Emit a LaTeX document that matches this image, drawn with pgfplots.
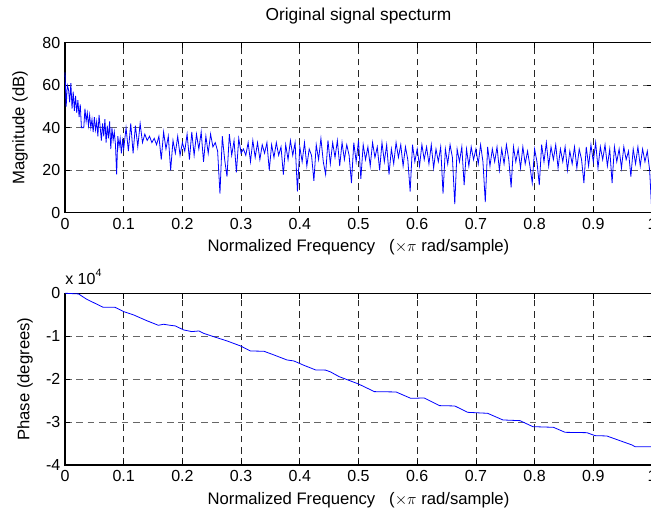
\documentclass[border=0pt]{standalone}
\usepackage{fontspec}
\setmainfont{Liberation Sans}
\usepackage{pgfplots}
\pgfplotsset{compat=1.18}
\definecolor{mblue}{RGB}{0,0,255}
\pgfplotsset{
  mstyle/.style={
    scale only axis,
    width=440.25pt,
    xmin=0, xmax=1,
    xtick={0,0.1,0.2,0.3,0.4,0.5,0.6,0.7,0.8,0.9,1},
    xticklabels={0,0.1,0.2,0.3,0.4,0.5,0.6,0.7,0.8,0.9,1},
    /pgf/number format/assume math mode=true,
    tick label style={font=\fontsize{12}{14}\selectfont},
    xticklabel style={yshift=-0.5pt},
    tick align=inside,
    major tick length=4pt,
    tick style={black, line width=0.5pt},
    axis line style={black, line width=0.8pt},
    grid=major,
    major x grid style={black!85, line width=0.5pt, dash pattern=on 5pt off 3.5pt},
    major y grid style={black!60, line width=0.5pt, dash pattern=on 5pt off 3.5pt},
    clip=false,
    every axis x label/.style={at={(axis description cs:0.5,-0.205)}, anchor=center, font=\fontsize{12.5}{14}\selectfont},
  }
}
\begin{document}
\begin{tikzpicture}
\path[use as bounding box] (-48.75pt,-33.75pt) rectangle (439.5pt,348.75pt);
% ---------- top: magnitude ----------
\begin{axis}[mstyle,
  at={(0pt,189.2pt)}, anchor=south west,
  height=127.5pt,
  ymin=0, ymax=80,
  ytick={0,20,40,60,80},
  yticklabels={0,20,40,60,80},
  title={Original signal specturm},
  title style={font=\fontsize{13}{15}\selectfont, at={(axis description cs:0.5,1)}, anchor=base, yshift=11pt},
  xlabel={Normalized Frequency\ \ \ ($\times\pi$ rad/sample)},
  ylabel={Magnitude (dB)},
  every axis y label/.style={at={(axis description cs:-0.0767,0.5)}, anchor=center, rotate=90, font=\fontsize{12.5}{14}\selectfont},
]
\addplot[mblue, line width=0.6pt] coordinates {
(0.000,66) (0.002,50) (0.004,60) (0.006,58) (0.008,52) (0.010,61) (0.012,49) (0.014,57)
(0.016,48) (0.018,55) (0.020,47) (0.022,53) (0.024,45) (0.026,51) (0.028,40) (0.030,40)
(0.032,40) (0.034,49) (0.036,43) (0.038,47) (0.040,41) (0.042,46) (0.044,40) (0.046,44)
(0.048,38) (0.050,45) (0.052,39) (0.054,43) (0.056,36) (0.058,46) (0.060,40) (0.062,34)
(0.064,42) (0.066,36) (0.068,44) (0.070,33) (0.072,41) (0.074,35) (0.076,43) (0.078,30)
(0.080,40) (0.082,34) (0.084,38) (0.086,32) (0.088,18) (0.090,36) (0.092,31) (0.094,35)
(0.096,28) (0.098,34)
(0.100,30) (0.104,40) (0.108,29) (0.112,42) (0.116,28) (0.120,41) (0.124,31) (0.128,42)
(0.132,33) (0.136,37) (0.140,34) (0.144,36) (0.148,33) (0.152,35) (0.156,32) (0.160,36)
(0.164,25) (0.168,38) (0.172,30) (0.176,36) (0.180,20) (0.184,34) (0.188,28) (0.192,36)
(0.196,27) (0.200,33) (0.204,29) (0.208,37) (0.212,25) (0.216,38) (0.220,27) (0.224,37)
(0.228,30) (0.232,38) (0.236,24) (0.240,36) (0.244,28) (0.248,37) (0.252,31) (0.256,33)
(0.260,29) (0.264,9) (0.268,36) (0.272,25) (0.276,17) (0.280,37) (0.284,27) (0.288,34)
(0.292,19) (0.296,35) (0.300,28) (0.304,30) (0.308,27) (0.312,33) (0.316,24) (0.320,34)
(0.324,26) (0.328,33) (0.332,25) (0.336,32) (0.340,28) (0.344,33) (0.348,20) (0.352,32)
(0.356,26) (0.360,33) (0.364,27) (0.368,31) (0.372,18) (0.376,32) (0.380,25) (0.384,34)
(0.388,27) (0.392,33) (0.396,10) (0.400,31) (0.404,24) (0.408,33) (0.412,22) (0.416,30)
(0.420,27) (0.424,15) (0.428,32) (0.432,25) (0.436,35) (0.440,24) (0.444,18) (0.448,34)
(0.452,23) (0.456,33) (0.460,26) (0.464,34) (0.468,22) (0.472,33) (0.476,25) (0.480,32)
(0.484,27) (0.488,14) (0.492,33) (0.496,24) (0.500,34) (0.504,16) (0.508,32) (0.512,25)
(0.516,31) (0.520,22) (0.524,33) (0.528,26) (0.532,31) (0.536,20) (0.540,33) (0.544,24)
(0.548,32) (0.552,18) (0.556,30) (0.560,23) (0.564,33) (0.568,26) (0.572,32) (0.576,22)
(0.580,31) (0.584,25) (0.588,10) (0.592,32) (0.596,24) (0.600,30) (0.604,22) (0.608,32)
(0.612,25) (0.616,31) (0.620,23) (0.624,32) (0.628,21) (0.632,30) (0.636,24) (0.640,31)
(0.644,9) (0.648,30) (0.652,23) (0.656,32) (0.660,26) (0.664,4) (0.668,30) (0.672,24)
(0.676,31) (0.680,13) (0.684,30) (0.688,22) (0.692,31) (0.696,25) (0.700,30) (0.704,23)
(0.708,32) (0.712,24) (0.716,5) (0.720,31) (0.724,22) (0.728,30) (0.732,24) (0.736,31)
(0.740,20) (0.744,30) (0.748,23) (0.752,32) (0.756,25) (0.760,12) (0.764,31) (0.768,24)
(0.772,30) (0.776,21) (0.780,31) (0.784,23) (0.788,29) (0.792,22) (0.796,14) (0.800,30)
(0.804,24) (0.808,13) (0.812,32) (0.816,24) (0.820,33) (0.824,22) (0.828,31) (0.832,25)
(0.836,32) (0.840,21) (0.844,30) (0.848,24) (0.852,31) (0.856,20) (0.860,29) (0.864,23)
(0.868,31) (0.872,21) (0.876,30) (0.880,25) (0.884,14) (0.888,31) (0.892,22) (0.896,32)
(0.900,24) (0.904,33) (0.908,21) (0.912,31) (0.916,25) (0.920,32) (0.924,22) (0.928,30)
(0.932,14) (0.936,31) (0.940,24) (0.944,30) (0.948,21) (0.952,31) (0.956,25) (0.960,29)
(0.964,17) (0.968,30) (0.972,23) (0.976,31) (0.980,22) (0.984,30) (0.988,24) (0.992,29)
(0.996,20) (0.999,4)
};
\end{axis}
% ---------- bottom: phase ----------
\begin{axis}[mstyle,
  at={(0pt,0pt)}, anchor=south west,
  height=128.8pt,
  ymin=-40000, ymax=0,
  scaled y ticks=false,
  ytick={-40000,-30000,-20000,-10000,0},
  yticklabels={-4,-3,-2,-1,0},
  xlabel={Normalized Frequency\ \ \ ($\times\pi$ rad/sample)},
  ylabel={Phase (degrees)},
  every axis y label/.style={at={(axis description cs:-0.068,0.5)}, anchor=center, rotate=90, font=\fontsize{12.5}{14}\selectfont},
]
\addplot[mblue, line width=0.6pt] coordinates {
(0.000,0) (0.023,-150) (0.037,-1400) (0.065,-3260) (0.085,-3260) (0.100,-4270)
(0.117,-5050) (0.139,-6370) (0.159,-7460) (0.168,-7220) (0.179,-7460) (0.188,-7610)
(0.202,-8540) (0.216,-8930) (0.228,-8780) (0.236,-9320) (0.253,-10100) (0.276,-11100)
(0.299,-12270) (0.316,-13440) (0.339,-13510) (0.356,-14370) (0.378,-15530) (0.390,-15770)
(0.407,-16780) (0.427,-17860) (0.444,-17900) (0.452,-18300) (0.467,-19420) (0.500,-21130)
(0.527,-22910) (0.564,-22990) (0.589,-24470) (0.612,-24390) (0.638,-26170) (0.664,-26250)
(0.686,-27730) (0.720,-27960) (0.746,-29510) (0.775,-29670) (0.797,-31070) (0.832,-31220)
(0.852,-32390) (0.889,-32470) (0.903,-33160) (0.923,-33240) (0.966,-35340) (0.971,-35730)
(0.999,-35730)
};
\node[anchor=base west, inner sep=0pt, font=\fontsize{12}{14}\selectfont] at ([yshift=6.75pt]axis description cs:0,1) {x 10\raisebox{0.9ex}{\fontsize{8}{9}\selectfont 4}};
\end{axis}
\end{tikzpicture}
\end{document}
